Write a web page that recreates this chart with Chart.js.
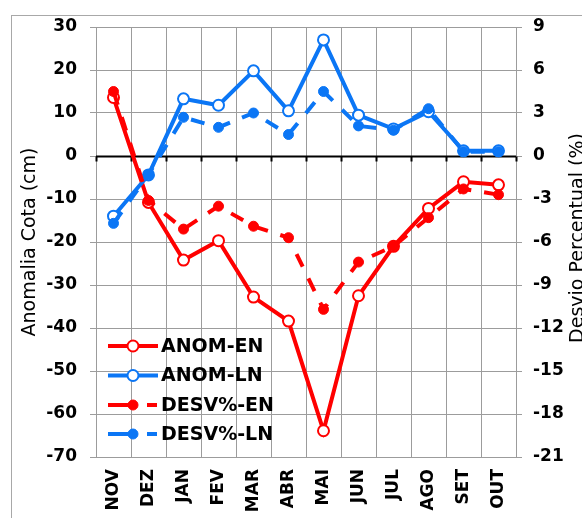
<!DOCTYPE html>
<html lang="pt">

<head>
    <meta charset="UTF-8">
    <title>Anomalia Cota e Desvio Percentual</title>
    <style>
        body {
            margin: 0;
            padding: 0;
            background: #ffffff;
        }

        canvas {
            display: block;
        }
    </style>
</head>

<body>
    <canvas id="cotaChart" width="582" height="518"></canvas>

    <script src="https://cdn.jsdelivr.net/npm/chart.js"></script>
    <script>
        // Data
        const months = ['NOV', 'DEZ', 'JAN', 'FEV', 'MAR', 'ABR', 'MAI', 'JUN', 'JUL', 'AGO', 'SET', 'OUT'];
        const anomEN = [13.6, -10.8, -24.2, -19.7, -32.8, -38.4, -63.9, -32.5, -21.0, -12.2, -6.0, -6.7];
        const anomLN = [-14.0, -4.4, 13.3, 11.8, 19.8, 10.5, 27.0, 9.5, 6.3, 10.3, 1.2, 1.2];
        const desvEN = [4.5, -3.1, -5.1, -3.5, -4.9, -5.7, -10.7, -7.4, -6.3, -4.3, -2.3, -2.7];
        const desvLN = [-4.7, -1.3, 2.7, 2.0, 3.0, 1.5, 4.5, 2.1, 1.8, 3.3, 0.3, 0.3];
        const seriesNames = ['ANOM-EN', 'ANOM-LN', 'DESV%-EN', 'DESV%-LN'];

        const RED = '#ff0000';
        const BLUE = '#0b76f5';
        const GRID = '#9c9c9c';
        const FONT = '"DejaVu Sans", "Liberation Sans", Arial, sans-serif';
        const DASH = [14, 13];

        // Frame, zero line, axis titles and legend drawn by hand
        const decorations = {
            id: 'decorations',
            beforeDraw(chart) {
                const c = chart.ctx;
                c.save();
                c.strokeStyle = '#a8a8a8';
                c.lineWidth = 1;
                c.strokeRect(11.5, 15.5, 700, 700);
                c.restore();
            },
            beforeDatasetsDraw(chart) {
                const c = chart.ctx;
                const x = chart.scales.x;
                const y0 = Math.round(chart.scales.y.getPixelForValue(0)) + 0.5;
                const area = chart.chartArea;
                c.save();
                c.strokeStyle = '#000000';
                c.lineWidth = 2;
                c.beginPath();
                c.moveTo(area.left, y0);
                c.lineTo(area.right, y0);
                const step = (area.right - area.left) / months.length;
                for (let i = 0; i <= months.length; i++) {
                    const px = Math.round(area.left + i * step) + 0.5;
                    c.moveTo(px, y0);
                    c.lineTo(px, y0 + 5);
                }
                c.stroke();
                c.restore();
            },
            afterDraw(chart) {
                const c = chart.ctx;
                c.save();
                c.fillStyle = '#000000';
                c.font = '19px ' + FONT;
                c.textAlign = 'center';
                c.textBaseline = 'alphabetic';

                // left axis title
                c.save();
                c.translate(35, 242);
                c.rotate(-Math.PI / 2);
                c.fillText('Anomalia Cota (cm)', 0, 0);
                c.restore();

                // right axis title
                c.save();
                c.translate(583, 238);
                c.rotate(-Math.PI / 2);
                c.fillText('Desvio Percentual (%)', 0, 0);
                c.restore();

                // legend
                const rows = [346, 375.5, 405, 434];
                chart.data.datasets.forEach((ds, i) => {
                    const yy = rows[i];
                    c.strokeStyle = ds.borderColor;
                    c.lineWidth = 4;
                    c.lineCap = 'butt';
                    c.beginPath();
                    if (ds.borderDash && ds.borderDash.length) {
                        c.moveTo(108, yy);
                        c.lineTo(136, yy);
                        c.moveTo(147, yy);
                        c.lineTo(157, yy);
                    } else {
                        c.moveTo(108, yy);
                        c.lineTo(158, yy);
                    }
                    c.stroke();
                    c.beginPath();
                    c.arc(133, yy, ds.pointRadius, 0, Math.PI * 2);
                    c.fillStyle = ds.pointBackgroundColor;
                    c.fill();
                    c.lineWidth = ds.pointBorderWidth;
                    c.strokeStyle = ds.borderColor;
                    c.stroke();

                    c.fillStyle = '#000000';
                    c.font = 'bold 19px ' + FONT;
                    c.textAlign = 'left';
                    c.textBaseline = 'middle';
                    c.fillText(ds.label, 161, yy + 1);
                });
                c.restore();
            }
        };

        const ctx = document.getElementById('cotaChart').getContext('2d');
        const cotaChart = new Chart(ctx, {
            type: 'line',
            data: {
                labels: months,
                datasets: [{
                    label: seriesNames[0],
                    data: anomEN,
                    yAxisID: 'y',
                    borderColor: RED,
                    borderWidth: 4,
                    pointRadius: 5.5,
                    pointBorderWidth: 2,
                    pointBackgroundColor: '#ffffff',
                    pointBorderColor: RED,
                    order: 4
                }, {
                    label: seriesNames[1],
                    data: anomLN,
                    yAxisID: 'y',
                    borderColor: BLUE,
                    borderWidth: 4,
                    pointRadius: 5.5,
                    pointBorderWidth: 2,
                    pointBackgroundColor: '#ffffff',
                    pointBorderColor: BLUE,
                    order: 3
                }, {
                    label: seriesNames[2],
                    data: desvEN,
                    yAxisID: 'y2',
                    borderColor: RED,
                    borderWidth: 4,
                    borderDash: DASH,
                    pointRadius: 5,
                    pointBorderWidth: 1,
                    pointBackgroundColor: RED,
                    pointBorderColor: RED,
                    order: 2
                }, {
                    label: seriesNames[3],
                    data: desvLN,
                    yAxisID: 'y2',
                    borderColor: BLUE,
                    borderWidth: 4,
                    borderDash: DASH,
                    pointRadius: 5,
                    pointBorderWidth: 1,
                    pointBackgroundColor: BLUE,
                    pointBorderColor: BLUE,
                    order: 1
                }]
            },
            options: {
                responsive: false,
                animation: false,
                devicePixelRatio: 1,
                layout: {
                    padding: { top: 27, left: 0, right: 0, bottom: 0 }
                },
                plugins: {
                    legend: { display: false },
                    tooltip: { enabled: false }
                },
                scales: {
                    x: {
                        offset: true,
                        grid: {
                            offset: true,
                            color: GRID,
                            drawTicks: false
                        },
                        border: { color: GRID },
                        ticks: {
                            color: '#000000',
                            font: { family: FONT, size: 17, weight: 'bold' },
                            minRotation: 90,
                            maxRotation: 90,
                            padding: 12,
                            autoSkip: false
                        },
                        afterFit(scale) {
                            scale.height = 61;
                        }
                    },
                    y: {
                        position: 'left',
                        min: -70,
                        max: 30,
                        grid: {
                            color: GRID,
                            tickLength: 6
                        },
                        border: { color: GRID },
                        ticks: {
                            stepSize: 10,
                            color: '#000000',
                            font: { family: FONT, size: 17, weight: 'bold' },
                            padding: 13
                        },
                        afterFit(scale) {
                            scale.width = 96;
                        }
                    },
                    y2: {
                        position: 'right',
                        min: -21,
                        max: 9,
                        grid: {
                            color: GRID,
                            drawOnChartArea: false,
                            tickLength: 6
                        },
                        border: { color: GRID },
                        ticks: {
                            stepSize: 3,
                            color: '#000000',
                            font: { family: FONT, size: 17, weight: 'bold' },
                            padding: 11
                        },
                        afterFit(scale) {
                            scale.width = 66;
                        }
                    }
                }
            },
            plugins: [decorations]
        });
    </script>
</body>

</html>
